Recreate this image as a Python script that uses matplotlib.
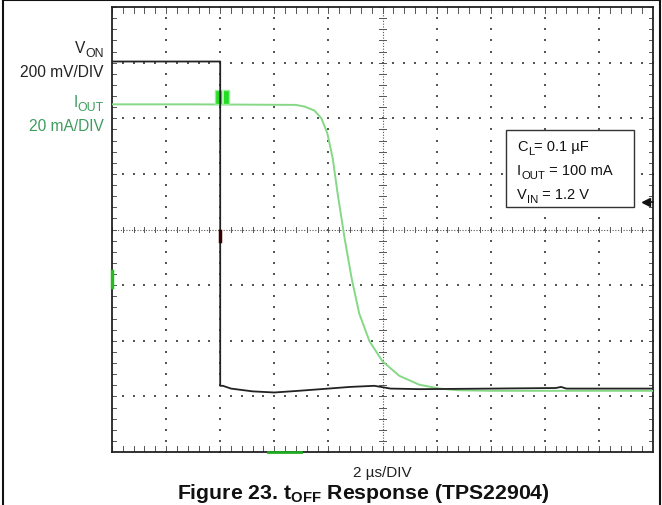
import numpy as np
import matplotlib
matplotlib.use("Agg")
import matplotlib.pyplot as plt
from matplotlib.patches import Rectangle

# ---- data (in divisions: x from -5..5 (2 us/div), y from -4..4) ----
von_x = [-5.0, -3.0, -3.0, -2.95, -2.8, -2.4, -2.0, -1.55, -1.0, -0.6, -0.15, 0.15, 0.7, 2.0, 3.2, 3.3, 3.4, 5.0]
von_y = [3.02, 3.02, -2.81, -2.81, -2.86, -2.91, -2.93, -2.90, -2.86, -2.83, -2.81, -2.86, -2.87, -2.86, -2.85, -2.83, -2.86, -2.86]

iout_x = [-5.0, -3.5, -1.6, -1.44, -1.26, -1.13, -1.02, -0.92, -0.83, -0.70, -0.57, -0.43, -0.24, 0.0, 0.31, 0.68, 1.05, 1.4, 2.0, 5.0]
iout_y = [2.25, 2.25, 2.24, 2.21, 2.14, 2.0, 1.73, 1.28, 0.65, -0.16, -0.88, -1.51, -2.01, -2.37, -2.63, -2.79, -2.86, -2.89, -2.9, -2.9]

xlabel = "2 \u00b5s/DIV"
ch1_name, ch1_sub, ch1_scale = "V", "ON", "200 mV/DIV"
ch2_name, ch2_sub, ch2_scale = "I", "OUT", "20 mA/DIV"
note_lines = [("C", "L", "= 0.1 \u00b5F"),
              ("I", "OUT", " = 100 mA"),
              ("V", "IN", " = 1.2 V")]
title = "Figure 23. t$_{\\mathregular{OFF}}$ Response (TPS22904)"

GREEN_LINE = "#86d886"
GREEN_TEXT = "#3f9c5e"

plt.rcParams['font.family'] = ['Liberation Sans', 'DejaVu Sans']
plt.rcParams['mathtext.fontset'] = 'custom'
plt.rcParams['mathtext.rm'] = 'Liberation Sans'
plt.rcParams['mathtext.bf'] = 'Liberation Sans:bold'

fig = plt.figure(figsize=(6.62, 5.06), dpi=100)
ax = fig.add_axes([112/662, 1-453/506, 541/662, 445/506])
ax.set_xlim(-5, 5)
ax.set_ylim(-4, 4)
ax.set_xticks([]); ax.set_yticks([])
for s in ax.spines.values():
    s.set_linewidth(1.3)
    s.set_color("#222222")

# dotted grid
minor = np.round(np.arange(-5, 5.001, 0.2), 3)
minory = np.round(np.arange(-4, 4.001, 0.2), 3)
gx, gy = [], []
for xv in range(-4, 5):
    if xv == 0:
        continue
    for yv in minory:
        gx.append(xv); gy.append(yv)
for yv in range(-3, 4):
    if yv == 0:
        continue
    for xv in minor:
        gx.append(xv); gy.append(yv)
ax.scatter(gx, gy, s=1.2, c="#555555", marker="s", linewidths=0, zorder=1)

# center crosshair: dense dots + small ticks
ax.plot([-5, 5], [0, 0], color="#555555", lw=0.8, ls=(0, (1, 1.5)), zorder=1)
ax.plot([0, 0], [-4, 4], color="#555555", lw=0.8, ls=(0, (1, 1.5)), zorder=1)
for xv in minor:
    ax.plot([xv, xv], [-0.05, 0.05], color="#555555", lw=0.7, zorder=1)
for yv in minory:
    ax.plot([-0.06, 0.06], [yv, yv], color="#555555", lw=0.7, zorder=1)

# frame ticks
for xv in minor:
    ax.plot([xv, xv], [3.9, 4], color="#555555", lw=0.7, zorder=1)
    ax.plot([xv, xv], [-4, -3.9], color="#555555", lw=0.7, zorder=1)
for yv in minory:
    ax.plot([-5, -4.93], [yv, yv], color="#555555", lw=0.7, zorder=1)
    ax.plot([4.93, 5], [yv, yv], color="#555555", lw=0.7, zorder=1)

# traces
ax.plot(iout_x, iout_y, color=GREEN_LINE, lw=1.4, zorder=3)
ax.plot(von_x, von_y, color="#222222", lw=1.3, zorder=4)

# markers
ax.add_patch(Rectangle((-3.09, 2.25), 0.25, 0.26, facecolor="#22dd22",
                       edgecolor="#99ee99", lw=1.0, zorder=3.5))
ax.plot([-2.94, -2.94], [2.27, 2.49], color="#ccffcc", lw=1.2, zorder=3.6)
ax.plot([-5, -5], [-0.75, -1.03], color="#22bb22", lw=2.5, zorder=5, clip_on=False)
ax.plot([-2.12, -1.5], [-4, -4], color="#22aa22", lw=2.0, zorder=5, clip_on=False)
ax.plot([-3.0, -3.0], [-0.02, -0.2], color="#330000", lw=2.5, zorder=5)
ax.plot([4.87], [0.49], marker="<", color="#111111", ms=6, zorder=5, clip_on=False)
ax.plot([4.87, 5.0], [0.49, 0.49], color="#111111", lw=1.2, zorder=5, clip_on=False)

def fx(px): return px/662
def fy(py): return 1 - py/506

def chain_label(x0, ybase_px, parts, color, size):
    main, sub, rest = parts
    m = ax.annotate(main, xy=(x0, ybase_px), xycoords="figure pixels",
                    ha="left", va="baseline", fontsize=size, color=color,
                    annotation_clip=False, zorder=7)
    s = ax.annotate(sub, xy=(1, ybase_px - 4), xycoords=(m, "figure pixels"),
                    xytext=(0.3, 0), textcoords="offset points",
                    ha="left", va="baseline", fontsize=size*0.78, color=color,
                    annotation_clip=False, zorder=7)
    if rest:
        ax.annotate(rest, xy=(1, ybase_px), xycoords=(s, "figure pixels"),
                    ha="left", va="baseline", fontsize=size, color=color,
                    annotation_clip=False, zorder=7)
    return m

def right_chain_label(xr, ybase_px, main, sub, color, size):
    s = ax.annotate(sub, xy=(xr, ybase_px - 4), xycoords="figure pixels",
                    ha="right", va="baseline", fontsize=size*0.8, color=color,
                    annotation_clip=False)
    ax.annotate(main, xy=(0, ybase_px), xycoords=(s, "figure pixels"),
                ha="right", va="baseline", fontsize=size, color=color,
                annotation_clip=False)

H = 506
# V_ON / I_OUT labels (baselines in px from top)
right_chain_label(104, H - 53, ch1_name, ch1_sub, "#222222", 11.2)
fig.text(fx(104), fy(77), ch1_scale, fontsize=11.2, ha="right", va="baseline", color="#222222")
right_chain_label(104, H - 107, ch2_name, ch2_sub, GREEN_TEXT, 11.2)
fig.text(fx(104), fy(131), ch2_scale, fontsize=11.2, ha="right", va="baseline", color=GREEN_TEXT)

# note box
ax.add_patch(Rectangle((2.28, 0.40), 2.37, 1.38, facecolor="white",
                       edgecolor="#333333", lw=1.0, zorder=6))
for i, parts in enumerate(note_lines):
    chain_label(517, H - (151 + i*24), parts, "#111111", 10.5)

fig.text(fx(382), fy(473), xlabel, fontsize=11, ha="center", va="center", color="#222222")
fig.text(fx(363), fy(499), title, fontsize=15.3, ha="center", va="baseline",
         fontweight="bold", color="#111111")

# figure border (left, top, right)
fig.add_artist(plt.Line2D([fx(3), fx(3)], [0, fy(1)], color="#111111", lw=1.5))
fig.add_artist(plt.Line2D([fx(3), fx(660)], [fy(1), fy(1)], color="#111111", lw=1.5))
fig.add_artist(plt.Line2D([fx(660), fx(660)], [0, fy(1)], color="#111111", lw=1.5))

fig.savefig("out.png", dpi=100)
